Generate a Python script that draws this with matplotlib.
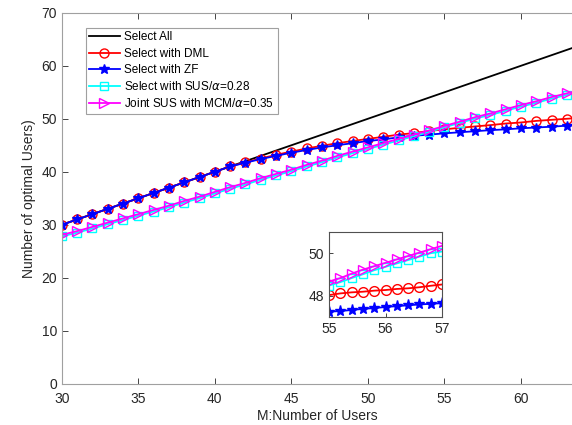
import matplotlib.pyplot as plt

plt.rcParams['font.family'] = ['Liberation Sans', 'DejaVu Sans']
plt.rcParams['mathtext.fontset'] = 'dejavusans'

# x values (number of users M)
m = list(range(30, 65))

sel_all = list(range(30, 65))
sel_dml = [30, 31, 32, 33, 34, 35, 36, 37, 38, 39, 40, 41,
           41.8, 42.5, 43.2, 43.8, 44.4, 44.9, 45.4, 45.8, 46.2, 46.6,
           47.0, 47.3, 47.7, 48.0, 48.3, 48.55, 48.8, 49.1, 49.3, 49.6,
           49.8, 50.0, 50.2]
sel_zf = [30, 31, 32, 33, 34, 35, 36, 37, 38, 39, 40, 41,
          41.7, 42.4, 43.0, 43.6, 44.1, 44.6, 45.0, 45.4, 45.8, 46.1,
          46.5, 46.8, 47.0, 47.25, 47.45, 47.65, 47.85, 48.0, 48.2, 48.35,
          48.5, 48.7, 48.85]
sel_sus = [27.8, 28.5, 29.3, 30.1, 30.9, 31.7, 32.5, 33.3, 34.2, 35.0,
           35.9, 36.8, 37.6, 38.5, 39.3, 40.1, 41.0, 41.8, 42.7, 43.5,
           44.3, 45.1, 45.9, 46.7, 47.5, 48.4, 49.2, 50.05, 50.7, 51.5,
           52.3, 53.0, 53.8, 54.5, 55.2]
joint_mcm = [28.1, 28.8, 29.6, 30.4, 31.2, 32.0, 32.8, 33.6, 34.5, 35.3,
             36.2, 37.1, 37.9, 38.8, 39.6, 40.4, 41.3, 42.1, 43.0, 43.8,
             44.6, 45.4, 46.2, 47.0, 47.8, 48.65, 49.45, 50.3, 51.0, 51.8,
             52.6, 53.3, 54.1, 54.8, 55.5]

# zoomed region 55..57
m_zoom = [55.0, 55.2, 55.4, 55.6, 55.8, 56.0, 56.2, 56.4, 56.6, 56.8, 57.0]
dml_zoom = [48.03, 48.11, 48.16, 48.19, 48.24, 48.27, 48.32, 48.35, 48.40, 48.47, 48.53]
zf_zoom = [47.25, 47.28, 47.33, 47.38, 47.42, 47.47, 47.51, 47.55, 47.59, 47.62, 47.65]
sus_zoom = [48.48, 48.64, 48.83, 49.01, 49.20, 49.36, 49.52, 49.68, 49.84, 50.00, 50.08]
mcm_zoom = [48.67, 48.83, 49.04, 49.23, 49.39, 49.55, 49.71, 49.87, 50.03, 50.19, 50.35]

labels = ['Select All', 'Select with DML', 'Select with ZF',
          r'Select with SUS/$\alpha$=0.28', r'Joint SUS with MCM/$\alpha$=0.35']

grey = '#262626'
fig = plt.figure(figsize=(5.72, 4.25), dpi=100)
ax = fig.add_axes([0.108, 0.097, 0.892, 0.873])


def draw(a, x, ys, ms):
    if ys[0] is not None:
        a.plot(x, ys[0], color='k', lw=1.3)
    a.plot(x, ys[1], color='#ff0000', lw=1.3, marker='o', ms=ms, mfc='none', mew=1.0)
    a.plot(x, ys[2], color='#0000ff', lw=1.3, marker='*', ms=ms + 1, mew=1.0)
    a.plot(x, ys[3], color='#00ffff', lw=1.3, marker='s', ms=ms - 1, mfc='none', mew=1.0)
    a.plot(x, ys[4], color='#ff00ff', lw=1.3, marker='>', ms=ms, mfc='none', mew=1.0)


draw(ax, m, [sel_all, sel_dml, sel_zf, sel_sus, joint_mcm], 6.5)
ax.set_xlim(30, 63.33)
ax.set_ylim(0, 70)
ax.set_xticks([30, 35, 40, 45, 50, 55, 60])
ax.set_yticks(range(0, 71, 10))
ax.tick_params(direction='in', top=True, colors=grey, labelsize=10, length=4, width=0.6)
ax.tick_params(axis='x', pad=6)
for s in ax.spines.values():
    s.set_color('#a0a0a0')
    s.set_linewidth(0.8)
ax.spines['right'].set_visible(False)
ax.set_xlabel('M:Number of Users', fontsize=10, color=grey, labelpad=2)
ax.set_ylabel('Number of optimal Users)', fontsize=10, color=grey, labelpad=4)
leg = ax.legend(labels, loc='upper left', bbox_to_anchor=(0.035, 0.975), fontsize=8.5,
                handlelength=2.6, handletextpad=0.4, borderpad=0.3, labelspacing=0.36,
                fancybox=False, framealpha=1)
leg.get_frame().set_edgecolor('#a0a0a0')
leg.get_frame().set_linewidth(0.8)

# inset
axi = fig.add_axes([329 / 572, 1 - 317 / 425, 113 / 572, 85 / 425])
draw(axi, m_zoom, [None, dml_zoom, zf_zoom, sus_zoom, mcm_zoom], 7)
axi.set_xlim(55, 57)
axi.set_ylim(47, 51)
axi.set_xticks([55, 56, 57])
axi.set_yticks([48, 50])
axi.tick_params(direction='in', colors=grey, labelsize=10, length=3, width=0.6)
for s in axi.spines.values():
    s.set_color('#505050')
    s.set_linewidth(0.8)

fig.savefig('out.png', dpi=100)
